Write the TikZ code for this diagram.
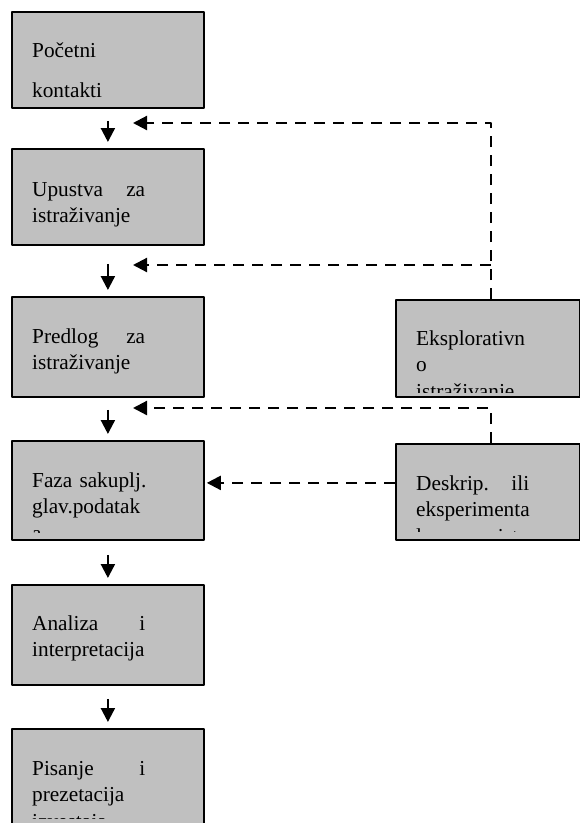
\documentclass[tikz,border=0pt]{standalone}
\usepackage{fontspec}
\setmainfont{Liberation Serif}
\usetikzlibrary{arrows.meta}
\definecolor{boxgray}{RGB}{192,192,192}

\begin{document}
\begin{tikzpicture}[x=1pt,y=-1pt,>={Triangle[length=14pt,width=14pt]}, line join=round,
	box/.style={draw,fill=boxgray,line width=1.8pt,inner sep=0pt,anchor=north west,minimum width=192pt},
	txt/.style={anchor=base west,inner sep=0pt,text width=113pt,align=left,font=\fontsize{21.3pt}{26.7pt}\selectfont},
	down/.style={->,line width=2.2pt,shorten <=12pt,shorten >=6pt},
	dline/.style={->,line width=2.2pt,dash pattern=on 11pt off 8pt}]
	\def\xl{11} \def\xr{395} \def\tx{21}
	\useasboundingbox (0,0) rectangle (580,823);
	% left column
	\node[box,minimum height=96pt] (b1) at (\xl,11) {};
	\node[box,minimum height=96pt] (b2) at (\xl,148) {};
	\node[box,minimum height=100pt] (b3) at (\xl,296) {};
	\node[box,minimum height=99pt] (b4) at (\xl,440) {};
	\node[box,minimum height=100pt] (b5) at (\xl,584) {};
	\node[box,minimum height=110pt] (b6) at (\xl,728) {};
	% right column
	\node[box,minimum width=184pt,minimum height=97pt] (e) at (\xr,299) {};
	\node[box,minimum width=184pt,minimum height=96pt] (d) at (\xr,443) {};
	% texts, cut at the lower edge
	\node[txt] (t1) at (\xl+\tx,57) {Početni\\[13.3pt]kontakti};
	\node[txt] (t2) at (\xl+\tx,196) {Upustva \hfill za\\istraživanje};
	\begin{scope}
		\clip (b3.north west) rectangle ([yshift=7pt]b3.south east);
		\node[txt] (t3) at (\xl+\tx,343) {Predlog \hfill za\\istraživanje};
	\end{scope}
	\begin{scope}
		\clip (b4.north west) rectangle ([yshift=8pt]b4.south east);
		\node[txt] (t4) at (\xl+\tx,487) {\mbox{Faza sakuplj.}\\glav.podatak\\a};
	\end{scope}
	\node[txt] (t5) at (\xl+\tx,630) {Analiza \hfill i\\interpretacija};
	\begin{scope}
		\clip (b6.north west) rectangle ([yshift=21pt]b6.south east);
		\node[txt] (t6) at (\xl+\tx,775) {Pisanje \hfill i\\prezetacija\\izvestaja};
	\end{scope}
	\begin{scope}
		\clip (e.north west) rectangle ([yshift=5pt]e.south east);
		\node[txt] (te) at (\xr+\tx,345) {Eksplorativn\\o\\istraživanje};
	\end{scope}
	\begin{scope}
		\clip (d.north west) rectangle ([yshift=9pt]d.south east);
		\node[txt] (td) at (\xr+\tx,490) {Deskrip. \hfill ili\\eksperimenta\\lno \hfill istr.};
	\end{scope}
	% main flow
	\draw[down] (b1) -- (b2);
	\draw[down,shorten <=18pt] (b2) -- (b3);
	\draw[down] (b3) -- (b4);
	\draw[down,shorten <=14pt] (b4) -- (b5);
	\draw[down,shorten <=13pt] (b5) -- (b6);
	% feedback
	\coordinate (k1) at (491,123); \coordinate (k2) at (491,265); \coordinate (k3) at (491,408);
	\coordinate (u1) at (133,123); \coordinate (u2) at (133,265); \coordinate (u3) at (133,408);
	\draw[dline] (e.north -| k1) -- (k1) -- (u1);
	\draw[dline] (k2) -- (u2);
	\draw[dline] (d.north -| k3) -- (k3) -- (u3);
	\draw[dline,shorten >=2pt] ([yshift=9pt]d.west) -- ([yshift=9pt]d.west -| b4.east);
\end{tikzpicture}
\end{document}
